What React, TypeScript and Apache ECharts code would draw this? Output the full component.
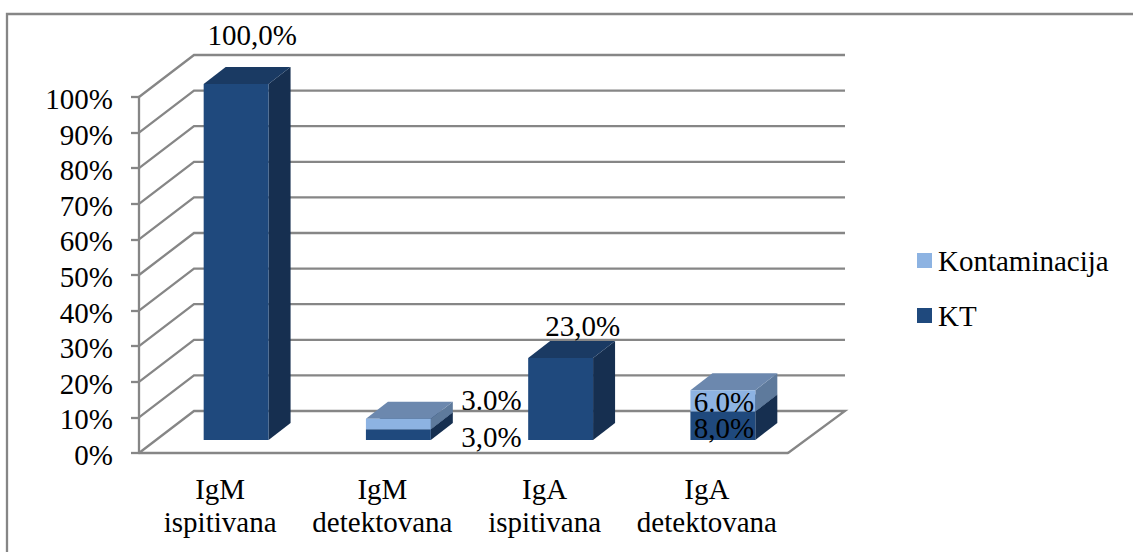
import React, { useEffect, useRef } from "react";
import * as echarts from "echarts";

const categories = ["IgM\nispitivana", "IgM\ndetektovana", "IgA\nispitivana", "IgA\ndetektovana"];
const yTicks = [0, 10, 20, 30, 40, 50, 60, 70, 80, 90, 100];
const ktValues = [100, 3, 23, 8];
const kontaminacijaValues = [0, 3, 0, 6];
const ktLabels = ["100,0%", "3,0%", "23,0%", "8,0%"];
const kontaminacijaLabels = ["", "3.0%", "", "6.0%"];

const GRAY = "#868686";
const LINE = 2.3;
const FONT = '"Liberation Serif", "Times New Roman", serif';
const FONT_SIZE = 29;
const WALL = { dx: 55, dy: -42 };
const BAR_DEPTH = { dx: 22, dy: -17 };
const BAR_SHIFT = { dx: 16, dy: -13 };
const KT_NUDGE = [[16, -49], [93, 8], [22, -32], [1, 16]];
const KONT_NUDGE = [[0, 0], [93, -19], [0, 0], [1, 12]];

function barRenderer(colors: { front: string; top: string; side: string }, labels: string[], nudges: number[][]) {
  return (params: any, api: any) => {
    const i = api.value(0);
    const base = api.value(1);
    const end = api.value(2);
    if (end <= base) return { type: "group", children: [] };
    const band = api.size([1, 0])[0];
    const w = band * 0.4;
    const a = api.coord([i, base]);
    const b = api.coord([i, end]);
    const x0 = a[0] - w / 2 + BAR_SHIFT.dx;
    const x1 = x0 + w;
    const y0 = a[1] + BAR_SHIFT.dy;
    const y1 = b[1] + BAR_SHIFT.dy;
    const d = BAR_DEPTH;
    const poly = (points: number[][], fill: string) => ({ type: "polygon", shape: { points }, style: { fill } });
    return {
      type: "group",
      children: [
        poly([[x1, y0], [x1 + d.dx, y0 + d.dy], [x1 + d.dx, y1 + d.dy], [x1, y1]], colors.side),
        poly([[x0, y1], [x1, y1], [x1 + d.dx, y1 + d.dy], [x0 + d.dx, y1 + d.dy]], colors.top),
        poly([[x0, y0], [x1, y0], [x1, y1], [x0, y1]], colors.front),
        {
          type: "text",
          x: (x0 + x1) / 2 + nudges[i][0],
          y: y1 + nudges[i][1],
          z2: 50,
          style: {
            text: labels[i],
            fill: "#000",
            font: `${FONT_SIZE}px ${FONT}`,
            textAlign: "center",
            textVerticalAlign: "middle",
            verticalAlign: "middle",
          },
        },
      ],
    };
  };
}

function gridRenderer(params: any, api: any) {
  const v = api.value(1);
  const band = api.size([1, 0])[0];
  const c = api.coord([0, v]);
  const left = c[0] - band / 2;
  const right = left + band * categories.length;
  const points = [
    [left, c[1]],
    [left + WALL.dx, c[1] + WALL.dy],
    [right + WALL.dx + 2, c[1] + WALL.dy],
  ];
  if (v === 0) points.push([right, c[1]]);
  return {
    type: "polyline",
    shape: { points },
    style: { stroke: GRAY, lineWidth: LINE, fill: "none" },
  };
}

export default function App() {
  const ref = useRef<HTMLDivElement>(null);
  useEffect(() => {
    const chart = echarts.init(ref.current!, null, { renderer: "svg" });
    chart.setOption({
      animation: false,
      backgroundColor: "#fff",
      textStyle: { fontFamily: FONT },
      graphic: [
        {
          type: "rect",
          shape: { x: 7, y: 14, width: 1140, height: 560 },
          style: { stroke: GRAY, lineWidth: LINE, fill: "none" },
          silent: true,
        },
      ],
      grid: { left: 139, right: 345, top: 97, bottom: 99 },
      legend: {
        data: ["Kontaminacija", "KT"],
        orient: "vertical",
        left: 917,
        top: 246,
        padding: 0,
        icon: "rect",
        itemWidth: 15,
        itemHeight: 15,
        itemGap: 26,
        selectedMode: false,
        textStyle: { fontFamily: FONT, fontSize: FONT_SIZE, color: "#000", padding: [8, 0, 0, 1] },
      },
      xAxis: {
        type: "category",
        data: categories,
        boundaryGap: true,
        axisLine: { lineStyle: { color: GRAY, width: LINE } },
        axisTick: { length: 8, alignWithLabel: false, lineStyle: { color: GRAY, width: LINE } },
        axisLabel: { interval: 0, color: "#000", fontFamily: FONT, fontSize: FONT_SIZE, lineHeight: 33, margin: 19 },
        splitLine: { show: false },
      },
      yAxis: {
        type: "value",
        min: 0,
        max: 100,
        interval: 10,
        axisLine: { show: true, lineStyle: { color: GRAY, width: LINE } },
        axisTick: { show: true, length: 8, lineStyle: { color: GRAY, width: LINE } },
        axisLabel: {
          margin: 26,
          formatter: "{t|{value}%}",
          rich: { t: { color: "#000", fontFamily: FONT, fontSize: FONT_SIZE, padding: [4, 0, 0, 0] } },
        },
        splitLine: { show: false },
      },
      series: [
        {
          type: "custom",
          name: "grid",
          z: 1,
          silent: true,
          renderItem: gridRenderer,
          encode: { x: 0, y: 1 },
          data: yTicks.map((v) => [0, v]),
        },
        {
          type: "custom",
          name: "KT",
          z: 3,
          itemStyle: { color: "#1F497D" },
          renderItem: barRenderer({ front: "#1F497D", top: "#1A3A63", side: "#162F50" }, ktLabels, KT_NUDGE),
          encode: { x: 0, y: [1, 2] },
          data: ktValues.map((v, i) => [i, 0, v]),
        },
        {
          type: "custom",
          name: "Kontaminacija",
          z: 4,
          itemStyle: { color: "#8DB3E2" },
          renderItem: barRenderer({ front: "#8DB3E2", top: "#6C88AE", side: "#5E7A9C" }, kontaminacijaLabels, KONT_NUDGE),
          encode: { x: 0, y: [1, 2] },
          data: kontaminacijaValues.map((v, i) => [i, ktValues[i], ktValues[i] + v]),
        },
      ],
    });
    return () => chart.dispose();
  }, []);
  return <div ref={ref} style={{ position: "fixed", left: 0, top: 0, width: 1133, height: 552 }} />;
}
